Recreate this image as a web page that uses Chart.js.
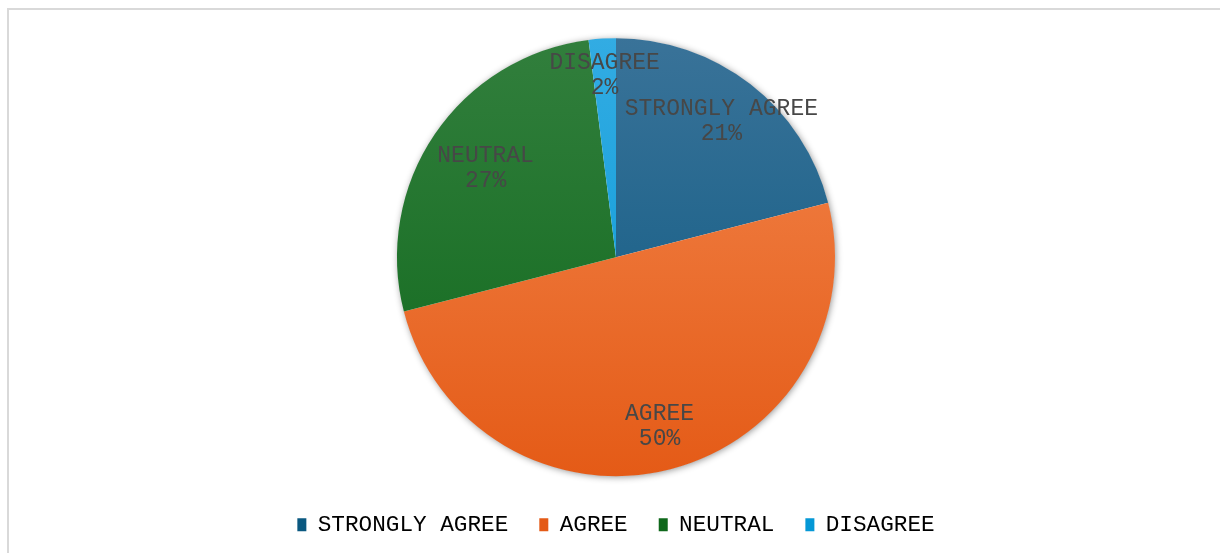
<!DOCTYPE html>
<html>
<head>
<meta charset="utf-8">
<script src="https://cdn.jsdelivr.net/npm/chart.js@4/dist/chart.umd.min.js"></script>
<style>
  html, body { margin: 0; padding: 0; background: #fff; overflow: hidden; }
  #frame { position: absolute; left: 7px; top: 8px; width: 1300px; height: 700px; border: 2px solid #d9d9d9; box-sizing: border-box; }
  #wrap { position: absolute; left: 0; top: 0; width: 1220px; height: 553px; }
</style>
</head>
<body>
<div id="frame"></div>
<div id="wrap"><canvas id="pieChart" width="1220" height="553"></canvas></div>
<script>
const categories = ['STRONGLY AGREE', 'AGREE', 'NEUTRAL', 'DISAGREE'];
const shares = [21, 50, 27, 2];
// light (top) and dark (bottom) shade of each slice
const topColors = ['#3a7399', '#f3884f', '#327f3d', '#33ace3'];
const bottomColors = ['#0a5880', '#e45a16', '#0f681b', '#0598d6'];

const fontFamily = '"Liberation Mono", "Courier New", monospace';
// how far out along each slice's middle its label sits (share of radius)
const labelReach = [0.785, 0.8, 0.72, 0.83];

function sliceFill(context) {
    var chart = context.chart;
    var area = chart.chartArea;
    if (!area) return bottomColors[context.dataIndex];
    var g = chart.ctx.createLinearGradient(0, area.top, 0, area.bottom);
    g.addColorStop(0, topColors[context.dataIndex]);
    g.addColorStop(1, bottomColors[context.dataIndex]);
    return g;
}

// soft halo under the whole pie
const pieShadow = {
    id: 'pieShadow',
    beforeDatasetsDraw(chart) {
        var arc = chart.getDatasetMeta(0).data[0];
        if (!arc) return;
        var ctx = chart.ctx;
        ctx.save();
        ctx.shadowColor = 'rgba(0,0,0,0.45)';
        ctx.shadowBlur = 7;
        ctx.shadowOffsetX = 1;
        ctx.shadowOffsetY = 1;
        ctx.fillStyle = '#ffffff';
        ctx.beginPath();
        ctx.arc(arc.x, arc.y, arc.outerRadius - 0.5, 0, Math.PI * 2);
        ctx.fill();
        ctx.restore();
    }
};

// category name and percentage inside each slice
const sliceLabels = {
    id: 'sliceLabels',
    afterDatasetsDraw(chart) {
        var ctx = chart.ctx;
        var meta = chart.getDatasetMeta(0);
        ctx.save();
        ctx.font = '23px ' + fontFamily;
        ctx.fillStyle = '#474747';
        ctx.textAlign = 'center';
        ctx.textBaseline = 'middle';
        meta.data.forEach(function (arc, i) {
            var mid = (arc.startAngle + arc.endAngle) / 2;
            var r = arc.outerRadius * labelReach[i];
            var x = arc.x + Math.cos(mid) * r;
            var y = arc.y + Math.sin(mid) * r;
            ctx.fillText(categories[i], x, y - 12.5);
            ctx.fillText(shares[i] + '%', x, y + 12.5);
        });
        ctx.restore();
    }
};

new Chart(document.getElementById('pieChart'), {
    type: 'pie',
    data: {
        labels: categories,
        datasets: [{
            data: shares,
            backgroundColor: sliceFill,
            borderWidth: 0,
            radius: 219
        }]
    },
    options: {
        responsive: false,
        animation: false,
        layout: { padding: { top: 32, left: 12, right: 0, bottom: 7 } },
        plugins: {
            tooltip: { enabled: false },
            legend: {
                position: 'bottom',
                labels: {
                    boxWidth: 9,
                    boxHeight: 13,
                    padding: 31,
                    color: '#5f5f5f',
                    font: { family: fontFamily, size: 22.7 },
                    generateLabels: function (chart) {
                        return categories.map(function (c, i) {
                            return { text: c, fillStyle: bottomColors[i], strokeStyle: bottomColors[i], lineWidth: 0, index: i, hidden: false };
                        });
                    }
                }
            }
        }
    },
    plugins: [pieShadow, sliceLabels]
});
</script>
</body>
</html>
